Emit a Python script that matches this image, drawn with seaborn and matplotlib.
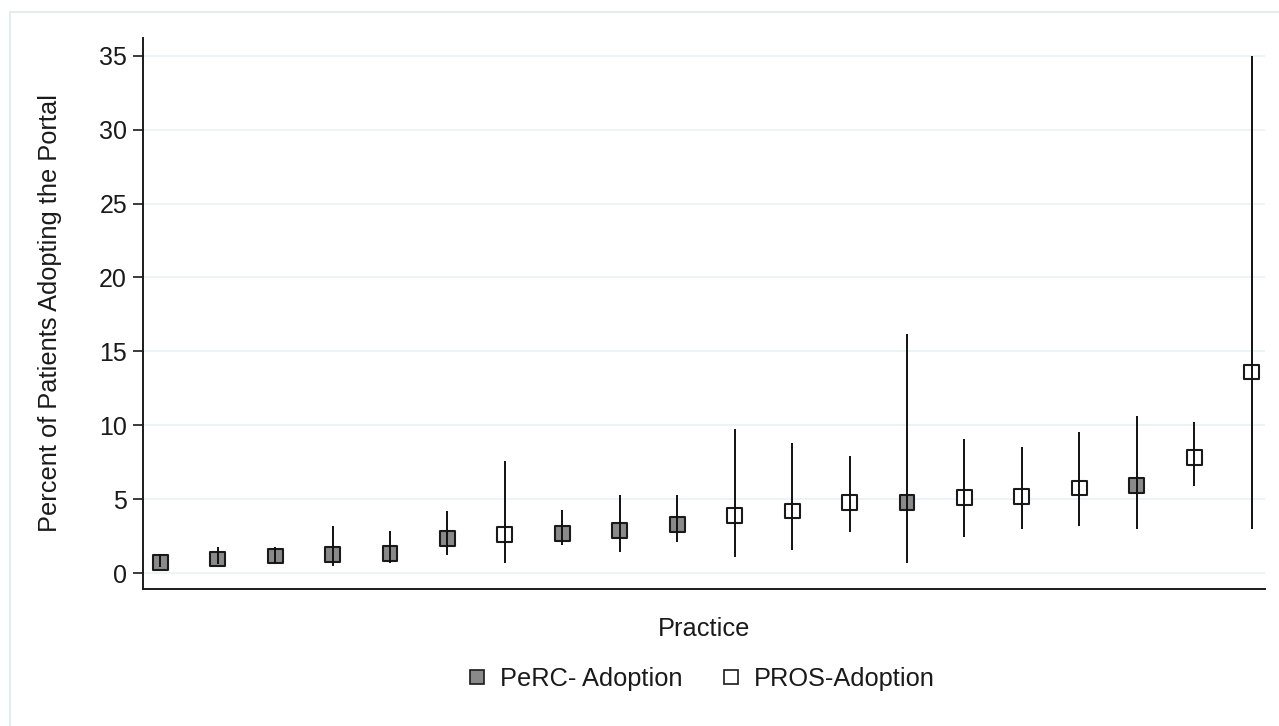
import pandas as pd
import seaborn as sns
import matplotlib.pyplot as plt
from matplotlib.lines import Line2D

# Practice-level adoption estimates with 95% CIs
practice = list(range(1, 21))
group = ["PeRC- Adoption"] * 6 + ["PROS-Adoption"] + ["PeRC- Adoption"] * 3 + \
        ["PROS-Adoption"] * 3 + ["PeRC- Adoption"] + ["PROS-Adoption"] * 3 + \
        ["PeRC- Adoption"] + ["PROS-Adoption"] * 2
pct = [0.7, 0.95, 1.15, 1.25, 1.35, 2.35, 2.6, 2.7, 2.9, 3.3,
       3.9, 4.2, 4.75, 4.75, 5.1, 5.2, 5.75, 5.95, 7.8, 13.6]
lower = [0.4, 0.6, 0.7, 0.5, 0.7, 1.2, 0.7, 1.9, 1.45, 2.1,
         1.1, 1.55, 2.75, 0.7, 2.45, 2.95, 3.2, 2.95, 5.9, 2.95]
upper = [1.3, 1.75, 1.75, 3.2, 2.85, 4.2, 7.55, 4.25, 5.25, 5.25,
         9.75, 8.8, 7.95, 16.2, 9.1, 8.5, 9.55, 10.6, 10.2, 35.0]

df = pd.DataFrame({"Practice": practice, "Group": group, "Pct": pct,
                   "Lo": lower, "Hi": upper})

sns.set_style("white")
plt.rcParams["font.family"] = ["Liberation Sans", "DejaVu Sans"]
plt.rcParams["text.color"] = "#1a1a1a"
plt.rcParams["axes.labelcolor"] = "#1a1a1a"
plt.rcParams["ytick.labelcolor"] = "#1a1a1a"

fig = plt.figure(figsize=(12.79, 7.26), dpi=100)
ax = fig.add_axes([0.1118, 0.1887, 0.8772, 0.759])

# light frame around the graph region
fig.add_artist(plt.Line2D([10 / 1279, 10 / 1279], [0, 1 - 12 / 726], transform=fig.transFigure,
                          color="#e3ebee", lw=1.5))
fig.add_artist(plt.Line2D([10 / 1279, 1], [1 - 12 / 726, 1 - 12 / 726], transform=fig.transFigure,
                          color="#e3ebee", lw=1.5))

for y in range(0, 40, 5):
    ax.axhline(y, color="#eaf2f3", lw=1.2, zorder=0)

palette = {"PeRC- Adoption": "#8a8a8a", "PROS-Adoption": "white"}
sns.scatterplot(data=df, x="Practice", y="Pct", hue="Group", palette=palette,
                marker="s", s=115, edgecolor="#1a1a1a", linewidth=1.5,
                zorder=2, ax=ax, legend=False)

# CI whiskers run over the markers, as in the original
ax.vlines(df["Practice"], df["Lo"], df["Hi"], color="#111111", lw=1.4, zorder=3)

ax.set_xlim(0.70, 20.23)
ax.set_ylim(-1.08, 36.2)
ax.set_yticks(range(0, 40, 5))
ax.set_xticks([])
ax.tick_params(axis="y", direction="out", length=7.5, width=1.2, color="#1a1a1a",
               labelsize=18, pad=4, left=True)
ax.set_ylabel("Percent of Patients Adopting the Portal", fontsize=18.3, labelpad=27)
ax.set_xlabel("Practice", fontsize=18.3, labelpad=20)
for side in ["top", "right"]:
    ax.spines[side].set_visible(False)
for side in ["left", "bottom"]:
    ax.spines[side].set_color("#1a1a1a")
    ax.spines[side].set_linewidth(1.4)

handles = [Line2D([], [], marker="s", ls="none", markersize=9.5, markerfacecolor=palette[g],
                  markeredgecolor="#1a1a1a", markeredgewidth=1.2, label=g)
           for g in ["PeRC- Adoption", "PROS-Adoption"]]
fig.legend(handles=handles, loc="center", bbox_to_anchor=(0.547, 1 - 679 / 726), ncol=2,
           frameon=False, fontsize=18.3, handlelength=1.0, handletextpad=0.4,
           columnspacing=1.4)

plt.savefig("out.png", dpi=100)
